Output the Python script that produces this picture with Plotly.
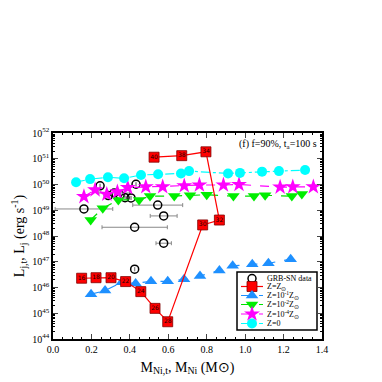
import numpy as np
import plotly.graph_objects as go

# ---- data (log10 of luminosity) ----
grb_x = [0.161, 0.245, 0.432, 0.288, 0.318, 0.349, 0.375, 0.406, 0.545, 0.576, 0.425, 0.576, 0.425]
grb_logy = [49.05, 49.95, 50.01, 49.57, 49.67, 49.59, 49.49, 49.48, 49.20, 48.78, 48.34, 47.72, 46.71]
grb_xerr = [0.15, 0.0, 0.0, 0.0, 0.08, 0.0, 0.0, 0.0, 0.13, 0.07, 0.17, 0.04, 0.0]

red_x = [0.149, 0.224, 0.302, 0.378, 0.457, 0.531, 0.597, 0.779, 0.866, 0.796, 0.670, 0.526]
red_logy = [46.36, 46.38, 46.38, 46.23, 45.84, 45.19, 44.67, 48.43, 48.62, 51.27, 51.12, 51.06]
red_lab = ["16", "18", "20", "22", "24", "26", "28", "30", "32", "34", "38", "40"]

blue_x = [0.198, 0.271, 0.358, 0.430, 0.510, 0.597, 0.682, 0.765, 0.866, 0.935, 1.037, 1.121, 1.237]
blue_logy = [45.74, 45.88, 46.20, 46.16, 46.24, 46.24, 46.32, 46.45, 46.66, 46.84, 46.90, 46.94, 47.10]

green_x = [0.196, 0.259, 0.340, 0.448, 0.505, 0.631, 0.713, 0.800, 0.939, 1.046, 1.104, 1.243, 1.295]
green_logy = [48.62, 49.08, 49.40, 49.40, 49.55, 49.55, 49.58, 49.60, 49.55, 49.55, 49.58, 49.55, 49.63]

mag_x = [0.161, 0.219, 0.280, 0.335, 0.389, 0.483, 0.571, 0.683, 0.762, 0.887, 0.968, 1.182, 1.248, 1.355]
mag_logy = [49.53, 49.79, 49.62, 49.71, 49.88, 49.91, 49.91, 49.95, 49.98, 49.98, 50.00, 49.90, 49.91, 49.91]

cyan_x = [0.120, 0.193, 0.286, 0.370, 0.458, 0.547, 0.666, 0.708, 0.911, 0.973, 1.088, 1.176, 1.312]
cyan_logy = [50.09, 50.21, 50.28, 50.24, 50.37, 50.40, 50.43, 50.52, 50.43, 50.45, 50.50, 50.52, 50.56]

y_exps = [44, 45, 46, 47, 48, 49, 50, 51, 52]
x_ticks = [0.0, 0.2, 0.4, 0.6, 0.8, 1.0, 1.2, 1.4]

legend_names = ["GRB-SN data", "Z=Z<sub>⊙</sub>", "Z=10<sup>-1</sup>Z<sub>⊙</sub>",
                "Z=10<sup>-2</sup>Z<sub>⊙</sub>", "Z=10<sup>-4</sup>Z<sub>⊙</sub>", "Z=0"]

P = lambda v: list(np.power(10.0, v))
FONT = "Liberation Serif"

# style per series
STY = [
    dict(line=None, marker=dict(symbol="circle-open", size=8, color="black", line=dict(width=1.5))),
    dict(line=dict(color="red", width=1.2),
         marker=dict(symbol="square", size=10, color="red", line=dict(color="#800000", width=0.8))),
    dict(line=dict(color="#1E90FF", width=1.2, dash="dash"),
         marker=dict(symbol="triangle-up", size=11, color="#1E90FF")),
    dict(line=dict(color="#00E000", width=1.2, dash="dash"),
         marker=dict(symbol="triangle-down", size=11, color="#00EE00")),
    dict(line=dict(color="#FF00FF", width=1.2, dash="dash"),
         marker=dict(symbol="star", size=12, color="#FF00FF")),
    dict(line=dict(color="#00FFFF", width=1.2, dash="dashdot"),
         marker=dict(symbol="circle", size=10, color="#00FFFF")),
]

fig = go.Figure()

fig.add_trace(go.Scatter(
    x=grb_x, y=P(grb_logy), mode="markers", showlegend=False,
    marker=STY[0]["marker"],
    error_x=dict(type="data", array=grb_xerr, color="#888888", thickness=1, width=2)))

series = [(blue_x, blue_logy, 2), (green_x, green_logy, 3), (mag_x, mag_logy, 4), (cyan_x, cyan_logy, 5)]
for xs, ys, k in series:
    fig.add_trace(go.Scatter(x=xs, y=P(ys), mode="lines+markers", showlegend=False,
                             line=STY[k]["line"], marker=STY[k]["marker"]))

fig.add_trace(go.Scatter(
    x=red_x, y=P(red_logy), mode="lines+markers+text", showlegend=False,
    text=red_lab, textposition="middle center",
    textfont=dict(size=6, color="#200000", family="DejaVu Sans"),
    line=STY[1]["line"], marker=STY[1]["marker"]))

# ---- hand-built legend (overlay axes in picture-pixel units) ----
leg_rows = [278.5, 286.5, 295.5, 304.5, 314.0, 323.5]
for k, yy in enumerate(leg_rows):
    if STY[k]["line"] is not None:
        fig.add_trace(go.Scatter(x=[241, 263], y=[yy, yy], mode="lines", showlegend=False,
                                 line=STY[k]["line"], xaxis="x2", yaxis="y2", hoverinfo="skip"))
    fig.add_trace(go.Scatter(x=[252], y=[yy], mode="markers", showlegend=False,
                             marker=STY[k]["marker"], xaxis="x2", yaxis="y2", hoverinfo="skip"))

annos = [dict(text=legend_names[k], xref="x2", yref="y2", x=265, y=yy, xanchor="left",
              yanchor="middle", showarrow=False, font=dict(size=8, family=FONT))
         for k, yy in enumerate(leg_rows)]
annos.append(dict(text="(f) f=90%, t<sub>a</sub>=100 s", xref="paper", yref="paper",
                  x=0.99, y=0.985, xanchor="right", yanchor="top", showarrow=False,
                  font=dict(size=10, family=FONT)))

minor_y = [k * 10.0 ** e for e in y_exps[:-1] for k in range(2, 10)]

fig.update_layout(
    width=374, height=374,
    margin=dict(l=45, r=60, t=125, b=43),
    paper_bgcolor="white", plot_bgcolor="white",
    font=dict(family=FONT, color="black", size=10),
    showlegend=False,
    xaxis=dict(
        range=[0, 1.4], tickvals=x_ticks, ticktext=[f"{v:.1f}" for v in x_ticks],
        ticks="inside", ticklen=5, tickwidth=1.2, showline=True, linecolor="black",
        linewidth=1.5, mirror="ticks", showgrid=False, zeroline=False, automargin=False,
        minor=dict(dtick=0.05, ticks="inside", ticklen=2.5, tickcolor="black", showgrid=False),
        title=dict(text="M<sub>Ni,t</sub>, M<sub>Ni</sub> (M⊙)", font=dict(size=14), standoff=8),
        tickfont=dict(size=10)),
    yaxis=dict(
        type="log", range=[44, 52],
        tickvals=[10.0 ** e for e in y_exps], ticktext=[f"10<sup>{e}</sup>" for e in y_exps],
        ticks="inside", ticklen=5, tickwidth=1.2, showline=True, linecolor="black",
        linewidth=1.5, mirror="ticks", showgrid=False, zeroline=False, automargin=False,
        minor=dict(tickvals=minor_y, ticks="inside", ticklen=2.5, tickcolor="black", showgrid=False),
        title=dict(text="L<sub>j,t</sub>, L<sub>j</sub> (erg s<sup>-1</sup>)", font=dict(size=14), standoff=4),
        tickfont=dict(size=10)),
    xaxis2=dict(overlaying="x", range=[53, 322], visible=False, fixedrange=True),
    yaxis2=dict(overlaying="y", range=[339, 133], visible=False, fixedrange=True),
    shapes=[dict(type="rect", xref="x2", yref="y2", x0=237, x1=317, y0=272, y1=330,
                 line=dict(color="black", width=1.5), fillcolor="white", layer="below")],
    annotations=annos,
)

fig.write_html("out.html")
